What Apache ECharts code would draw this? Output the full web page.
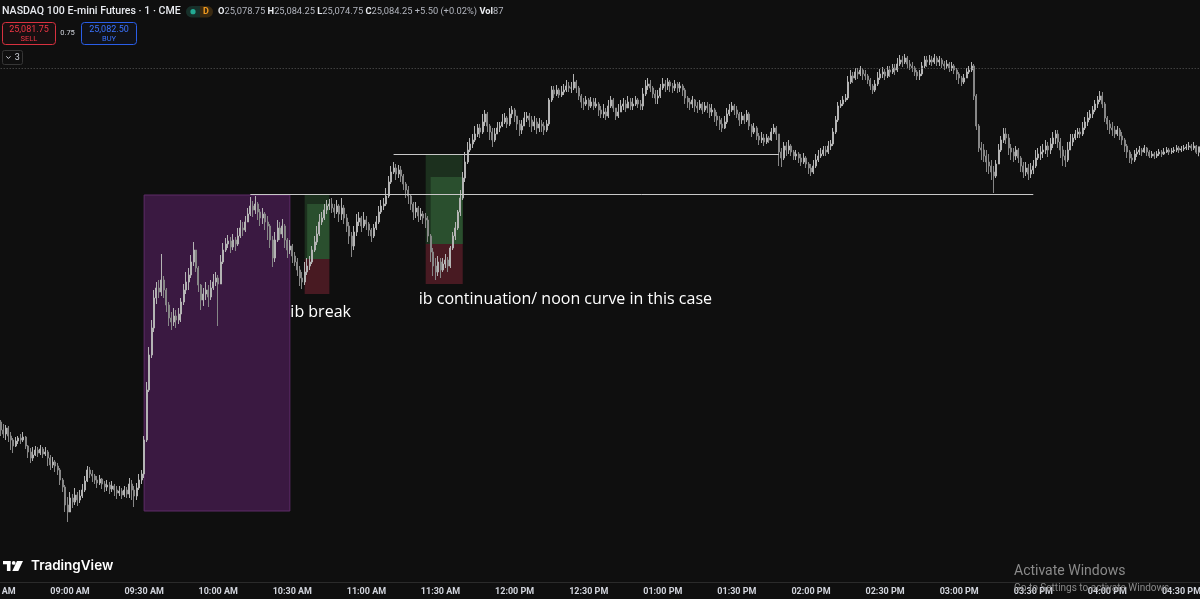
<!DOCTYPE html>
<html>
<head>
<meta charset="utf-8">
<script src="https://cdn.jsdelivr.net/npm/echarts/dist/echarts.min.js"></script>
<style>
html,body{margin:0;padding:0;background:#0f0f0f;overflow:hidden;}
#c{width:1200px;height:599px;}
</style>
</head>
<body>
<div id="c"></div>
<script>
// ---- DATA: NQ 1-minute bars, each [close, low, high]; open = previous close ----
const firstOpen = 24812;

const seg0830 = [
[24806,24801,24813],[24809,24799,24815],[24801,24795,24811],[24797,24793,24807],[24803,24791,24806],
[24795,24789,24805],[24791,24781,24799],[24785,24778,24793],[24790,24784,24794],[24793,24787,24795],
[24791,24787,24797],[24794,24789,24799],[24785,24782,24795],[24779,24773,24786],[24773,24768,24783],
[24776,24770,24784],[24781,24775,24785],[24778,24774,24784],[24782,24776,24786],[24777,24773,24784],
[24779,24775,24784],[24773,24765,24781],[24766,24761,24776],[24769,24763,24774],[24765,24759,24771],
[24761,24756,24768],[24751,24746,24763],[24744,24739,24753],[24726,24719,24746],[24719,24709,24734],
[24733,24719,24739],[24729,24723,24737],[24736,24726,24743],[24731,24725,24739],[24735,24728,24741],
[24741,24733,24747],[24750,24739,24755],[24761,24749,24765],[24757,24753,24764],[24755,24749,24761],
[24751,24747,24757],[24748,24743,24755],[24752,24746,24756],[24747,24742,24753],[24744,24739,24750],
[24746,24740,24751],[24742,24737,24749],[24745,24739,24750],[24741,24735,24747],[24738,24732,24745],
[24740,24735,24745],[24736,24732,24743],[24741,24734,24745],[24737,24733,24744],[24747,24733,24753],
[24741,24731,24751],[24735,24724,24745],[24743,24731,24748],[24751,24741,24757],[24757,24747,24761]
];
const seg0930 = [
[24791,24753,24795],[24841,24789,24849],[24876,24839,24884],[24903,24873,24911],[24933,24899,24941],
[24943,24927,24949],[24939,24933,24951],[24951,24935,24977],[24941,24933,24955],[24926,24919,24943],
[24913,24905,24929],[24909,24901,24919],[24915,24905,24923],[24911,24903,24921],[24917,24907,24923],
[24929,24909,24933],[24941,24926,24947],[24949,24937,24959],[24956,24941,24963],[24969,24953,24976],
[24981,24965,24989],[24963,24959,24981],[24946,24939,24965],[24931,24921,24947],[24937,24925,24943],
[24941,24931,24949],[24934,24924,24946],[24943,24931,24951],[24949,24941,24957],[24953,24945,24959],
[24947,24905,24956],[24969,24961,24976],[24981,24967,24988],[24987,24979,24993],[24990,24983,24996],
[24984,24978,24994],[24991,24981,24997],[24987,24980,24994],[24995,24985,25003],[25003,24993,25011],
[25001,24995,25009],[25009,24999,25015],[25017,25009,25023],[25025,25015,25034],[25021,25014,25030],
[25027,25017,25035],[25019,25011,25029],[25013,25005,25022],[25017,25007,25023],[25009,25001,25019],
[25005,24991,25015],[24991,24983,25007],[24973,24964,24995],[24991,24969,24999],[25003,24989,25011],
[24997,24991,25009],[25005,24993,25012],[24991,24983,25007],[24981,24973,24993],[24985,24977,24991]
];
const seg1030 = [
[24975,24968,24987],[24969,24965,24979],[24961,24955,24973],[24953,24945,24965],[24949,24942,24959],
[24959,24946,24969],[24965,24956,24973],[24969,24961,24975],[24981,24967,24985],[24989,24979,24995],
[24997,24986,25005],[25009,24995,25017],[25013,25006,25019],[25021,25011,25027],[25025,25017,25031],
[25027,25021,25032],[25023,25018,25033],[25019,25013,25027],[25025,25017,25031],[25017,25009,25027],
[25023,25011,25033],[25013,25007,25026],[25005,24999,25017],[24995,24987,25009],[24985,24974,24999],
[24999,24981,25005],[25009,24995,25017],[25013,25005,25019],[25005,24999,25015],[25011,25003,25019],
[25007,25001,25015],[25001,24995,25009],[24995,24989,25003],[25003,24993,25007],[25009,25001,25015],
[25019,25007,25025],[25025,25017,25031],[25027,25021,25033],[25035,25025,25043],[25049,25033,25055],
[25059,25047,25065],[25063,25057,25069],[25057,25051,25067],[25061,25053,25066],[25055,25049,25065],
[25047,25041,25057],[25041,25033,25049],[25035,25027,25045],[25027,25021,25037],[25019,25011,25029],
[25023,25013,25029],[25015,25009,25025],[25017,25011,25023],[25013,25007,25020],[25011,25003,25018],
[24995,24989,25015],[24979,24969,24997],[24965,24955,24983],[24959,24951,24973],[24969,24955,24975]
];
const seg1130 = [
[24961,24953,24973],[24967,24959,24973],[24971,24963,24977],[24965,24959,24974],[24983,24963,24985],
[24995,24981,24999],[25003,24991,25009],[25019,25001,25021],[25033,25015,25041],[25053,25031,25059],
[25069,25049,25079],[25081,25067,25089],[25087,25079,25093],[25091,25083,25097],[25097,25089,25105],
[25103,25094,25107],[25099,25093,25107],[25109,25097,25117],[25117,25105,25121],[25105,25099,25119],
[25099,25091,25107],[25091,25084,25103],[25097,25089,25103],[25103,25097,25109],[25105,25099,25109],
[25109,25104,25117],[25113,25107,25118],[25107,25103,25115],[25117,25105,25123],[25121,25113,25125],
[25115,25109,25123],[25107,25101,25115],[25101,25095,25111],[25105,25097,25111],[25113,25105,25119],
[25115,25109,25119],[25111,25104,25118],[25105,25099,25115],[25109,25101,25115],[25103,25097,25113],
[25107,25099,25113],[25105,25099,25111],[25101,25096,25109],[25107,25099,25111],[25131,25105,25133],
[25141,25129,25145],[25137,25133,25145],[25141,25135,25146],[25136,25133,25143],[25139,25134,25145],
[25141,25136,25147],[25145,25139,25151],[25143,25139,25149],[25143,25138,25149],[25149,25141,25157],
[25143,25138,25151],[25135,25131,25145],[25129,25123,25137],[25127,25121,25133],[25131,25125,25135]
];
const seg1230 = [
[25125,25121,25133],[25129,25123,25134],[25125,25121,25133],[25127,25123,25133],[25121,25115,25129],
[25117,25113,25125],[25119,25113,25127],[25115,25111,25123],[25125,25113,25131],[25131,25123,25135],
[25123,25119,25133],[25115,25111,25123],[25119,25113,25127],[25125,25119,25131],[25127,25121,25133],
[25123,25119,25131],[25129,25123,25135],[25125,25121,25133],[25127,25121,25133],[25131,25125,25135],
[25127,25123,25133],[25125,25121,25131],[25137,25121,25143],[25145,25135,25151],[25147,25141,25153],
[25143,25139,25151],[25137,25133,25145],[25133,25127,25141],[25135,25127,25141],[25143,25133,25147],
[25147,25141,25153],[25145,25139,25151],[25149,25141,25153],[25145,25139,25151],[25143,25138,25148],
[25147,25140,25151],[25143,25138,25149],[25145,25139,25149],[25141,25135,25147],[25133,25127,25143],
[25129,25123,25135],[25127,25121,25133],[25131,25123,25135],[25125,25119,25132],[25123,25118,25129],
[25127,25121,25131],[25121,25117,25129],[25125,25119,25129],[25123,25118,25129],[25119,25113,25127],
[25121,25115,25127],[25115,25109,25123],[25111,25105,25119],[25107,25101,25115],[25103,25099,25113],
[25109,25102,25115],[25117,25107,25123],[25121,25115,25127],[25125,25119,25129],[25121,25116,25127]
];
const seg1330 = [
[25117,25113,25125],[25111,25105,25119],[25115,25107,25119],[25111,25107,25117],[25117,25109,25121],
[25105,25101,25119],[25099,25094,25107],[25103,25097,25108],[25095,25091,25105],[25091,25086,25098],
[25093,25088,25099],[25089,25085,25097],[25093,25087,25097],[25091,25088,25095],[25099,25090,25103],
[25103,25097,25107],[25097,25091,25105],[25079,25065,25097],[25073,25064,25083],[25085,25071,25089],
[25081,25075,25089],[25085,25077,25091],[25079,25075,25087],[25075,25071,25081],[25077,25071,25081],
[25073,25068,25079],[25069,25065,25077],[25073,25067,25078],[25067,25063,25075],[25063,25057,25069],
[25059,25055,25067],[25065,25057,25071],[25071,25063,25077],[25075,25069,25081],[25077,25073,25083],
[25081,25075,25085],[25079,25075,25085],[25085,25077,25090],[25087,25081,25091],[25099,25085,25103],
[25111,25097,25115],[25125,25109,25129],[25127,25123,25131],[25131,25125,25135],[25133,25129,25137],
[25149,25131,25155],[25155,25147,25161],[25153,25148,25159],[25159,25151,25163],[25157,25152,25163],
[25161,25155,25165],[25157,25151,25163],[25155,25151,25161],[25151,25147,25157],[25145,25141,25153],
[25141,25137,25147],[25147,25139,25151],[25153,25145,25159],[25157,25151,25162],[25159,25153,25164]
];
const seg1430 = [
[25155,25151,25162],[25161,25153,25165],[25159,25154,25165],[25163,25157,25167],[25161,25156,25167],
[25167,25159,25173],[25171,25165,25176],[25169,25164,25175],[25173,25167,25177],[25167,25163,25175],
[25165,25161,25171],[25163,25159,25169],[25159,25155,25165],[25155,25151,25161],[25157,25151,25161],
[25165,25155,25169],[25171,25163,25175],[25169,25164,25175],[25171,25166,25176],[25169,25165,25175],
[25173,25167,25177],[25169,25165,25175],[25171,25165,25175],[25167,25163,25173],[25165,25161,25170],
[25167,25162,25171],[25163,25159,25169],[25165,25160,25169],[25161,25157,25167],[25157,25151,25163],
[25153,25147,25159],[25149,25145,25155],[25153,25147,25157],[25159,25153,25163],[25161,25157,25165],
[25165,25159,25169],[25135,25131,25167],[25105,25101,25137],[25083,25079,25107],[25081,25071,25089],
[25075,25069,25087],[25069,25059,25081],[25065,25057,25077],[25059,25051,25071],[25055,25038,25065],
[25067,25053,25071],[25081,25067,25087],[25091,25079,25095],[25097,25088,25103],[25093,25087,25103],
[25083,25076,25097],[25079,25071,25087],[25075,25069,25083],[25081,25071,25085],[25073,25068,25083],
[25065,25059,25075],[25059,25053,25069],[25063,25055,25069],[25057,25051,25067],[25061,25053,25068]
];
const seg1530 = [
[25065,25057,25071],[25073,25063,25081],[25077,25071,25083],[25079,25071,25085],[25081,25073,25087],
[25085,25077,25091],[25081,25074,25089],[25087,25077,25093],[25093,25083,25099],[25097,25087,25101],
[25089,25083,25101],[25081,25073,25093],[25075,25065,25085],[25071,25064,25081],[25081,25069,25089],
[25089,25081,25097],[25093,25085,25097],[25097,25091,25101],[25099,25093,25103],[25097,25093,25103],
[25103,25095,25109],[25109,25101,25114],[25113,25105,25119],[25117,25111,25121],[25121,25113,25125],
[25127,25119,25131],[25131,25123,25135],[25135,25129,25140],[25127,25123,25139],[25113,25109,25129],
[25107,25101,25115],[25103,25097,25111],[25101,25095,25109],[25097,25093,25105],[25101,25095,25105],
[25095,25091,25103],[25091,25086,25099],[25085,25079,25093],[25079,25073,25087],[25073,25068,25081],
[25071,25067,25077],[25077,25069,25081],[25079,25074,25083],[25081,25076,25085],[25079,25075,25083],
[25083,25078,25086],[25079,25075,25084],[25075,25073,25081],[25077,25073,25080],[25075,25072,25079],
[25077,25073,25080],[25079,25075,25082],[25077,25074,25081],[25079,25076,25083],[25081,25078,25084],
[25079,25076,25083],[25080,25077,25083],[25081,25078,25084],[25083,25079,25086],[25081,25078,25085]
];
const seg1630 = [
[25082,25079,25085],[25083,25080,25086],[25084,25081,25087],[25085,25081,25089],[25083,25080,25087],
[25085,25081,25089],[25078.75,25077,25086],[25084.25,25074.75,25084.25]
];

// time axis
const sessionStart = '08:30';
const tickTimes  = ['08:30','09:00','09:30','10:00','10:30','11:00','11:30','12:00','12:30','13:00','13:30','14:00','14:30','15:00','15:30','16:00','16:30'];
const tickLabels = ['08:30 AM','09:00 AM','09:30 AM','10:00 AM','10:30 AM','11:00 AM','11:30 AM','12:00 PM','12:30 PM','01:00 PM','01:30 PM','02:00 PM','02:30 PM','03:00 PM','03:30 PM','04:00 PM','04:30 PM'];

// drawings
const ibBox    = { from: '09:30', to: '10:29', high: 25036, low: 24720 };
const ibLine   = { from: '10:13', to: '15:30', price: 25037 };
const highLine = { from: '11:11', to: '13:47', price: 25077 };
const priceDots = 25163;
const trade1 = { from: '10:35', fillFrom: '10:36', to: '10:45', target: 25036, reached: 25027, entry: 24972, stop: 24937 };
const trade2 = { from: '11:24', fillFrom: '11:26', to: '11:39', target: 25076, reached: 25054, entry: 24987, stop: 24947 };
const notes = [
  { at: '10:29', price: 24919, text: 'ib break' },
  { at: '11:21', price: 24932, text: 'ib continuation/ noon curve in this case' }
];

// ---- build ----
const bars = [].concat(seg0830, seg0930, seg1030, seg1130, seg1230, seg1330, seg1430, seg1530, seg1630);
const startMin = parseInt(sessionStart.slice(0,2),10)*60 + parseInt(sessionStart.slice(3),10);
const categories = bars.map((_, k) => {
  const m = startMin + k;
  return String(Math.floor(m/60)).padStart(2,'0') + ':' + String(m%60).padStart(2,'0');
});
let prevClose = firstOpen;
const candleData = bars.map(([c, l, h]) => {
  const o = prevClose; prevClose = c;
  return [o, c, Math.min(l, o, c), Math.max(h, o, c)];
});
const tickMap = new Map(tickTimes.map((t, i) => [t, tickLabels[i]]));

const DG = '#1c301e', BG = '#2a4f2e', RD = '#481a22';
function area(x1, x2, yTop, yBot, color, border) {
  const s = { color: color };
  if (border) { s.borderColor = border; s.borderWidth = 1; }
  return [{ xAxis: x1, yAxis: yTop, itemStyle: s }, { xAxis: x2, yAxis: yBot }];
}
function tradeAreas(t) {
  return [
    area(t.from, t.to, t.target, t.entry, DG),
    area(t.fillFrom, t.to, t.reached, t.entry, BG),
    area(t.from, t.to, t.entry, t.stop, RD)
  ];
}

const chart = echarts.init(document.getElementById('c'), null, { renderer: 'canvas' });
const F = 'Roboto, "Noto Sans", sans-serif';

const option = {
  backgroundColor: '#0f0f0f',
  animation: false,
  tooltip: { show: false },
  grid: { left: -5.3, right: 0, top: 0, bottom: 17, containLabel: false, outerBoundsMode: 'none' },
  xAxis: {
    type: 'category',
    data: categories,
    boundaryGap: true,
    axisLine: { show: true, lineStyle: { color: '#2b2b2b', width: 1 } },
    axisTick: { show: false },
    splitLine: { show: false },
    axisLabel: {
      interval: (idx, val) => tickMap.has(val),
      formatter: v => tickMap.get(v) || '',
      color: '#d1d4dc', fontSize: 9, fontWeight: 'bold', fontFamily: F, margin: 5,
      hideOverlap: false
    }
  },
  yAxis: { type: 'value', min: 24649, max: 25231, show: false, splitLine: { show: false } },
  series: [{
    type: 'candlestick',
    data: candleData,
    barWidth: 1.5,
    z: 3,
    silent: true,
    itemStyle: { color: '#b4b4b4', color0: '#878787', borderColor: '#b4b4b4', borderColor0: '#878787', borderWidth: 1 },
    emphasis: { disabled: true },
    markArea: {
      silent: true,
      label: { show: false },
      data: [area(ibBox.from, ibBox.to, ibBox.high, ibBox.low, '#3a1941', '#5e2c68')]
        .concat(tradeAreas(trade1), tradeAreas(trade2))
    },
    markLine: {
      silent: true,
      symbol: ['none', 'none'],
      label: { show: false },
      lineStyle: { color: '#c8c8c8', width: 1, type: 'solid' },
      data: [
        { yAxis: priceDots, lineStyle: { color: '#5a5a5a', type: [1, 2], width: 1 } },
        [{ coord: [ibLine.from, ibLine.price] }, { coord: [ibLine.to, ibLine.price] }],
        [{ coord: [highLine.from, highLine.price] }, { coord: [highLine.to, highLine.price] }]
      ]
    },
    markPoint: {
      silent: true,
      symbol: 'rect',
      symbolSize: 1,
      itemStyle: { color: 'rgba(0,0,0,0)' },
      label: { show: true, position: 'right', distance: 0, color: '#ffffff', fontSize: 16, fontFamily: '"Open Sans", sans-serif' },
      data: notes.map(n => ({ coord: [n.at, n.price], label: { formatter: n.text } }))
    }
  }],
  graphic: [
    // header title
    { type: 'text', x: 2, y: 11.7, style: { text: 'NASDAQ 100 E-mini Futures · 1 · CME', fill: '#e8eaef', fontSize: 10.6, fontWeight: 500, fontFamily: F, verticalAlign: 'middle', align: 'left' } },
    // status badges
    { type: 'rect', shape: { x: 186, y: 6, width: 14, height: 11.5, r: [5.7, 0, 0, 5.7] }, style: { fill: '#17302a' } },
    { type: 'rect', shape: { x: 200, y: 6, width: 13, height: 11.5, r: [0, 5.7, 5.7, 0] }, style: { fill: '#3a2a12' } },
    { type: 'circle', shape: { cx: 193, cy: 11.7, r: 2.6 }, style: { fill: '#22ab94' } },
    { type: 'text', x: 206, y: 11.9, style: { text: 'D', fill: '#f29a1f', fontSize: 9, fontWeight: 'bold', fontFamily: F, align: 'center', verticalAlign: 'middle' } },
    // OHLC
    { type: 'text', x: 218, y: 11.7, style: {
      text: '{k|O}{v|25,078.75} {k|H}{v|25,084.25} {k|L}{v|25,074.75} {k|C}{v|25,084.25} {v|+5.50 (+0.02%)} {k|Vol}{v|87}',
      verticalAlign: 'middle', align: 'left', fontSize: 9.3, fontFamily: F,
      rich: { k: { fill: '#eceef2', fontSize: 9.3, fontFamily: F, fontWeight: 'bold' }, v: { fill: '#b2b5be', fontSize: 9.3, fontFamily: F } } } },
    // sell / buy
    { type: 'rect', shape: { x: 2.5, y: 22.5, width: 53, height: 22, r: 3 }, style: { fill: 'rgba(242,54,69,0.04)', stroke: '#d8313f', lineWidth: 1 } },
    { type: 'text', x: 29, y: 29.3, style: { text: '25,081.75', fill: '#f23645', fontSize: 9, fontFamily: F, align: 'center', verticalAlign: 'middle' } },
    { type: 'text', x: 29, y: 38.8, style: { text: 'SELL', fill: '#f23645', fontSize: 7.5, fontFamily: F, align: 'center', verticalAlign: 'middle' } },
    { type: 'text', x: 67.5, y: 33.5, style: { text: '0.75', fill: '#d1d4dc', fontSize: 7.5, fontFamily: F, align: 'center', verticalAlign: 'middle' } },
    { type: 'rect', shape: { x: 81.5, y: 22.5, width: 55, height: 22, r: 3 }, style: { fill: 'rgba(41,98,255,0.04)', stroke: '#2a5ee8', lineWidth: 1 } },
    { type: 'text', x: 109, y: 29.3, style: { text: '25,082.50', fill: '#3b73ff', fontSize: 9, fontFamily: F, align: 'center', verticalAlign: 'middle' } },
    { type: 'text', x: 109, y: 38.8, style: { text: 'BUY', fill: '#3b73ff', fontSize: 7.5, fontFamily: F, align: 'center', verticalAlign: 'middle' } },
    // collapse button
    { type: 'rect', shape: { x: 2.5, y: 50.5, width: 20, height: 14, r: 2 }, style: { fill: '#0f0f0f', stroke: '#363636', lineWidth: 1 } },
    { type: 'polyline', shape: { points: [[6.3, 56.3], [8.4, 58.5], [10.5, 56.3]] }, style: { stroke: '#c8cad0', lineWidth: 1, fill: null } },
    { type: 'text', x: 17.3, y: 57.8, style: { text: '3', fill: '#d1d4dc', fontSize: 9, fontFamily: F, align: 'center', verticalAlign: 'middle' } },
    // TradingView logo
    { type: 'rect', shape: { x: 3, y: 561, width: 7.5, height: 3.3 }, style: { fill: '#ffffff' } },
    { type: 'rect', shape: { x: 6.9, y: 561, width: 3.6, height: 10 }, style: { fill: '#ffffff' } },
    { type: 'circle', shape: { cx: 13.7, cy: 562.9, r: 1.9 }, style: { fill: '#ffffff' } },
    { type: 'polygon', shape: { points: [[17, 561], [23, 561], [18.3, 571], [12.3, 571]] }, style: { fill: '#ffffff' } },
    { type: 'text', x: 31, y: 566, style: { text: 'TradingView', fill: '#ffffff', fontSize: 13.5, fontWeight: 600, fontFamily: 'Inter, Roboto, sans-serif', align: 'left', verticalAlign: 'middle' } },
    // OS watermark
    { type: 'text', x: 1014, y: 571, z: 100, style: { text: 'Activate Windows', fill: '#8a8a8a', fontSize: 14, fontFamily: F, align: 'left', verticalAlign: 'middle' } },
    { type: 'text', x: 1014, y: 588, z: 100, style: { text: 'Go to Settings to activate Windows.', fill: '#8a8a8a', fontSize: 10, fontFamily: F, align: 'left', verticalAlign: 'middle' } }
  ]
};
chart.setOption(option);
</script>
</body>
</html>
